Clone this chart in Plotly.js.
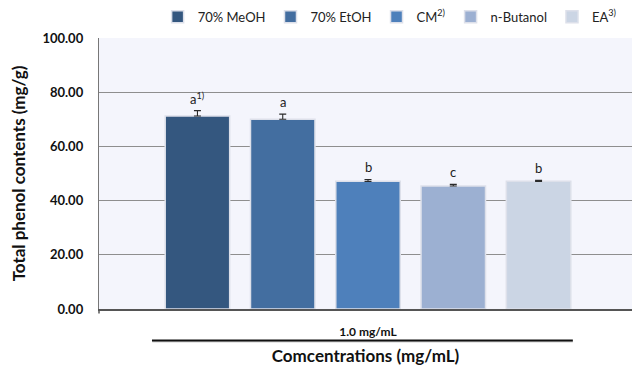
<!DOCTYPE html>
<html>
<head>
<meta charset="utf-8">
<script src="https://cdn.plot.ly/plotly-3.0.1.min.js"></script>
<style>html,body{margin:0;padding:0;background:#fff;}#chart{width:632px;height:369px;}</style>
</head>
<body>
<div id="chart"></div>
<script>
// ---- data ----
const category = ["1.0 mg/mL"];
const seriesNames = ["70% MeOH", "70% EtOH", "CM<sup>2)</sup>", "n-Butanol", "EA<sup>3)</sup>"];
const values = [71.2, 70.0, 47.1, 45.4, 47.1];
const errors = [2.0, 1.9, 0.7, 0.6, 0.4];
const letters = ["a<sup>1)</sup>", "a", "b", "c", "b"];
const colors = ["#34577f", "#436ea0", "#4e80bb", "#9cb0d2", "#cbd5e4"];
const yTicks = [0, 20, 40, 60, 80, 100];

const FONT = "Lato, 'Open Sans', sans-serif";
const bargap = 0.2, bargroupgap = 0.244;

const traces = seriesNames.map((n, i) => ({
  type: "bar",
  name: n,
  x: category,
  y: [values[i]],
  marker: {color: colors[i], line: {color: "#dde0ea", width: 1.5}},
  error_y: {type: "data", symmetric: false, array: [errors[i]], arrayminus: [null],
            color: "#2a2a2a", thickness: 1.1, width: 3.5},
  hoverinfo: "y+name"
}));

// label positions: slot centres inside the category band, from the bar gap
const groupW = 1 - bargap;
const annotations = letters.map((t, i) => ({
  xref: "x", yref: "y",
  x: -groupW / 2 + (i + 0.5) * groupW / seriesNames.length,
  y: values[i] + errors[i],
  text: t, showarrow: false, yanchor: "bottom", yshift: 2,
  font: {family: FONT, size: 13, color: "#222"}
}));

const layout = {
  width: 632, height: 369,
  margin: {l: 99, r: 0, t: 38, b: 60},
  paper_bgcolor: "#ffffff",
  plot_bgcolor: "#f4f5fc",
  barmode: "group", bargap: bargap, bargroupgap: bargroupgap,
  showlegend: true,
  legend: {orientation: "h", x: 0.11, xanchor: "left", y: 1.078, yanchor: "middle",
           font: {family: FONT, size: 13, color: "#222"}, itemwidth: 30, tracegroupgap: 0},
  xaxis: {
    type: "category", range: [-0.5047, 0.4953],
    showline: true, linecolor: "#555", linewidth: 1.5, ticks: "",
    showgrid: false, ticklabelstandoff: 11,
    tickfont: {family: FONT, size: 12, color: "#111", weight: "bold"},
    title: {text: "Comcentrations (mg/mL)", standoff: 12,
            font: {family: FONT, size: 17, color: "#111", weight: "bold"}}
  },
  yaxis: {
    range: [0, 100], tickvals: yTicks, tickformat: ".2f",
    showline: true, linecolor: "#777", linewidth: 1.2, ticks: "",
    showgrid: true, gridcolor: "#8e8e8e", gridwidth: 1, zeroline: false,
    ticklabelstandoff: 12,
    tickfont: {family: FONT, size: 13, color: "#111", weight: "bold"},
    title: {text: "Total phenol contents (mg/g)", standoff: 12,
            font: {family: FONT, size: 17, color: "#111", weight: "bold"}}
  },
  annotations: annotations,
  shapes: [
    {type: "line", xref: "paper", yref: "paper", x0: 0.1, x1: 0.889, y0: -0.120, y1: -0.120,
     line: {color: "#cfcfcf", width: 2}},
    {type: "line", xref: "paper", yref: "paper", x0: 0.0994, x1: 0.889, y0: -0.116, y1: -0.116,
     line: {color: "#111", width: 2}},
    {type: "line", xref: "paper", yref: "paper", x0: 0, x1: 0, y0: 0, y1: -0.017,
     line: {color: "#555", width: 1.5}}
  ]
};

Plotly.newPlot("chart", traces, layout, {displayModeBar: false, staticPlot: true});
</script>
</body>
</html>
